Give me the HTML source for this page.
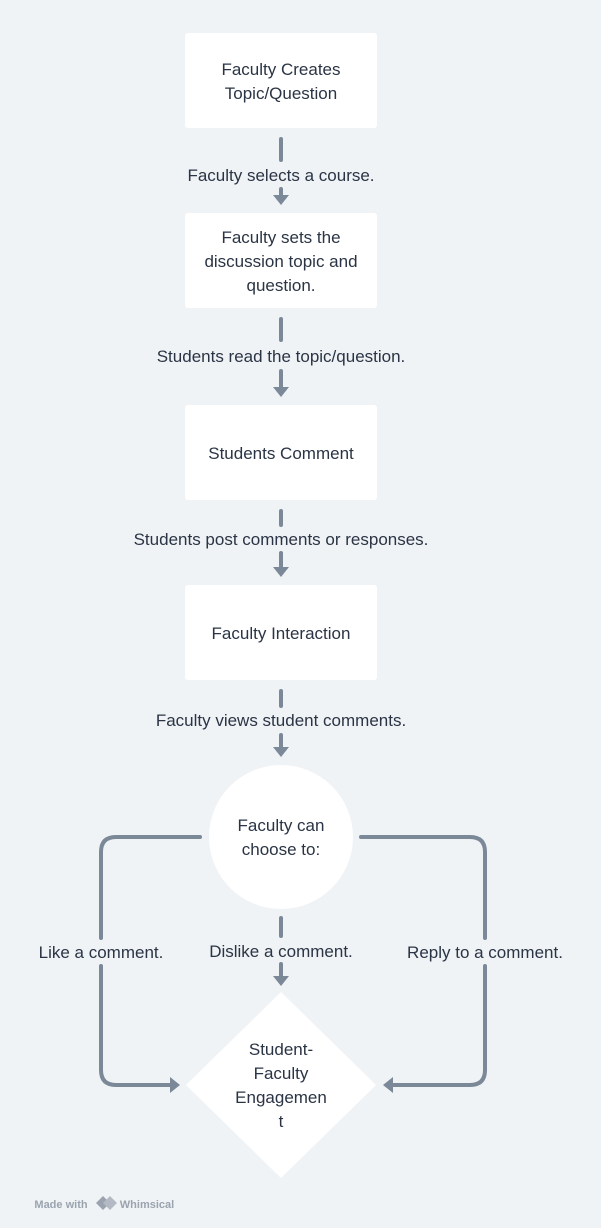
<!DOCTYPE html>
<html><head><meta charset="utf-8"><style>
html,body{margin:0;padding:0;background:#f0f3f6;}
svg{display:block;}
text{font-family:"Liberation Sans",sans-serif;font-size:17px;fill:#2a3444;text-anchor:middle;}
</style></head><body>
<svg width="601" height="1228" viewBox="0 0 601 1228" xmlns="http://www.w3.org/2000/svg">
<rect width="601" height="1228" fill="#f0f3f6"/>
<g fill="#fff">
<rect x="185" y="33" width="192" height="95" rx="3"/>
<rect x="185" y="213" width="192" height="95" rx="3"/>
<rect x="185" y="405" width="192" height="95" rx="3"/>
<rect x="185" y="585" width="192" height="95" rx="3"/>
<circle cx="281" cy="837" r="72"/>
<polygon points="281,992 376,1085 281,1178 186,1085"/>
</g>
<g stroke="#7b8898" stroke-width="4" stroke-linecap="round" fill="none">
<line x1="281" y1="139" x2="281" y2="160"/><line x1="281" y1="189" x2="281" y2="197"/>
<line x1="281" y1="319" x2="281" y2="340"/><line x1="281" y1="371" x2="281" y2="389"/>
<line x1="281" y1="511" x2="281" y2="525"/><line x1="281" y1="553" x2="281" y2="569"/>
<line x1="281" y1="691" x2="281" y2="706"/><line x1="281" y1="735" x2="281" y2="749"/>
<line x1="281" y1="918" x2="281" y2="936"/><line x1="281" y1="964" x2="281" y2="978"/>
<path d="M200 837 H116 Q101 837 101 852 V938"/>
<path d="M101 966 V1070 Q101 1085 116 1085 H172"/>
<path d="M361 837 H470 Q485 837 485 852 V938"/>
<path d="M485 966 V1070 Q485 1085 470 1085 H392"/>
</g>
<g fill="#7b8898">
<polygon points="273,195 289,195 281,205"/>
<polygon points="273,387 289,387 281,397"/>
<polygon points="273,567 289,567 281,577"/>
<polygon points="273,747 289,747 281,757"/>
<polygon points="273,976 289,976 281,986"/>
<polygon points="170,1077 170,1093 180,1085"/>
<polygon points="393,1077 393,1093 383,1085"/>
</g>
<text x="281" y="75">Faculty Creates</text>
<text x="281" y="99">Topic/Question</text>
<text x="281" y="243">Faculty sets the</text>
<text x="281" y="267">discussion topic and</text>
<text x="281" y="291">question.</text>
<text x="281" y="459">Students Comment</text>
<text x="281" y="639">Faculty Interaction</text>
<text x="281" y="831">Faculty can</text>
<text x="281" y="855">choose to:</text>
<text x="281" y="1055">Student-</text>
<text x="281" y="1079">Faculty</text>
<text x="281" y="1103">Engagemen</text>
<text x="281" y="1127">t</text>
<text x="281" y="181">Faculty selects a course.</text>
<text x="281" y="362">Students read the topic/question.</text>
<text x="281" y="545">Students post comments or responses.</text>
<text x="281" y="726">Faculty views student comments.</text>
<text x="281" y="957">Dislike a comment.</text>
<text x="101" y="958">Like a comment.</text>
<text x="485" y="958">Reply to a comment.</text>
<text x="61" y="1208" style="font-size:11px;font-weight:bold;fill:#9aa3ae">Made with</text>
<g fill="#9aa3ae"><polygon points="103,1196 110,1203 103,1210 96,1203"/><polygon points="110,1196 117,1203 110,1210 103,1203" fill="#b3bac3"/></g>
<text x="147" y="1208" style="font-size:11px;font-weight:bold;fill:#9aa3ae">Whimsical</text>
</svg>
</body></html>
